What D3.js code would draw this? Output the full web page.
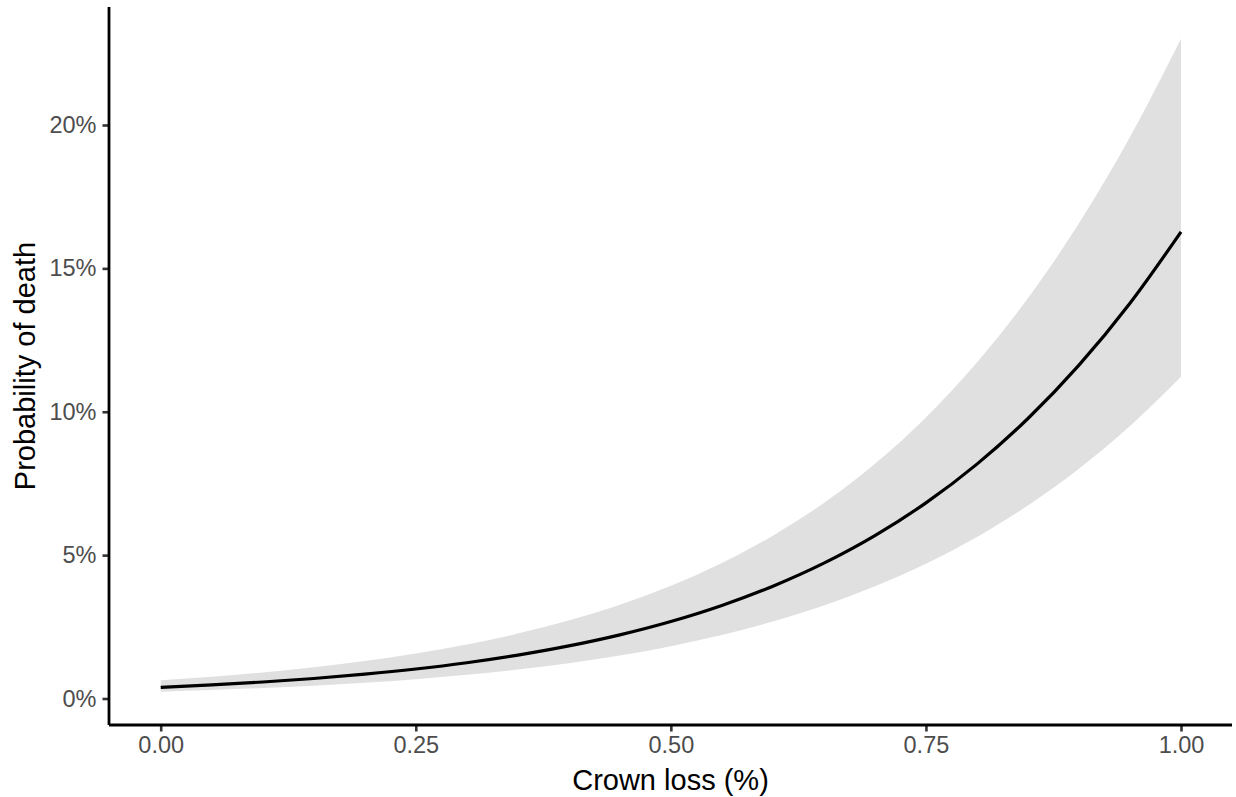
<!DOCTYPE html>
<html>
<head>
<meta charset="utf-8">
<script src="https://cdn.jsdelivr.net/npm/d3@7"></script>
<style>
  html, body { margin: 0; padding: 0; background: #ffffff; }
  svg { display: block; }
</style>
</head>
<body>
<svg id="chart" width="1236" height="797"></svg>
<script>
// Crown loss (fraction) values where the fitted curve was read
const crownLoss = [0.00, 0.05, 0.10, 0.15, 0.20, 0.25, 0.30, 0.35, 0.40, 0.45, 0.50,
                   0.55, 0.60, 0.65, 0.70, 0.75, 0.80, 0.85, 0.90, 0.95, 1.00];
// Probability of death (%) - fitted line
const probFit = [0.390, 0.474, 0.575, 0.698, 0.848, 1.028, 1.247, 1.512, 1.833, 2.219, 2.684,
                 3.244, 3.917, 4.721, 5.681, 6.822, 8.174, 9.764, 11.625, 13.785, 16.274];
// Lower and upper bounds of the confidence band (%)
const probLower = [0.239, 0.295, 0.363, 0.446, 0.548, 0.673, 0.824, 1.008, 1.231, 1.501, 1.826,
                   2.217, 2.686, 3.245, 3.912, 4.702, 5.634, 6.730, 8.012, 9.502, 11.222];
const probUpper = [0.635, 0.760, 0.910, 1.091, 1.308, 1.570, 1.884, 2.263, 2.719, 3.269, 3.930,
                   4.725, 5.679, 6.820, 8.183, 9.801, 11.715, 13.959, 16.572, 19.580, 23.009];
// Axis tick values and labels
const xTicks = [0, 0.25, 0.5, 0.75, 1];
const xTickLabels = ["0.00", "0.25", "0.50", "0.75", "1.00"];
const yTicks = [0, 5, 10, 15, 20];
const yTickLabels = ["0%", "5%", "10%", "15%", "20%"];

const rows = crownLoss.map((x, i) => ({ x, fit: probFit[i], lo: probLower[i], hi: probUpper[i] }));

const svg = d3.select("#chart");
const font = "'Liberation Sans', Arial, Helvetica, sans-serif";

const panel = { left: 109, right: 1232, top: 7, bottom: 725 };

const x = d3.scaleLinear().domain([0, 1]).range([160.7, 1181]);
const y = d3.scaleLinear().domain([0, 20]).range([698.5, 125]);

// ribbon
const area = d3.area()
  .x(d => x(d.x))
  .y0(d => y(d.lo))
  .y1(d => y(d.hi))
  .curve(d3.curveMonotoneX);
svg.append("path")
  .datum(rows)
  .attr("d", area)
  .attr("fill", "#e0e0e0");

// fitted line
const line = d3.line()
  .x(d => x(d.x))
  .y(d => y(d.fit))
  .curve(d3.curveMonotoneX);
svg.append("path")
  .datum(rows)
  .attr("d", line)
  .attr("fill", "none")
  .attr("stroke", "#000000")
  .attr("stroke-width", 3.2);

// X axis
const xAxis = d3.axisBottom(x)
  .tickValues(xTicks)
  .tickFormat((d, i) => xTickLabels[i])
  .tickSize(6.5)
  .tickPadding(5)
  .tickSizeOuter(0);
const gx = svg.append("g")
  .attr("transform", `translate(0,${panel.bottom})`)
  .call(xAxis);
gx.select(".domain").remove();
gx.selectAll(".tick line").attr("stroke", "#333333").attr("stroke-width", 2.6);
gx.selectAll(".tick text")
  .attr("fill", "#4d4d4d")
  .style("font-family", font)
  .style("font-size", "23.5px");
svg.append("line")
  .attr("x1", panel.left).attr("x2", panel.right)
  .attr("y1", panel.bottom).attr("y2", panel.bottom)
  .attr("stroke", "#000000").attr("stroke-width", 2.8);

// Y axis
const yAxis = d3.axisLeft(y)
  .tickValues(yTicks)
  .tickFormat((d, i) => yTickLabels[i])
  .tickSize(6.5)
  .tickPadding(6)
  .tickSizeOuter(0);
const gy = svg.append("g")
  .attr("transform", `translate(${panel.left},0)`)
  .call(yAxis);
gy.select(".domain").remove();
gy.selectAll(".tick line").attr("stroke", "#333333").attr("stroke-width", 2.6);
gy.selectAll(".tick text")
  .attr("fill", "#4d4d4d")
  .style("font-family", font)
  .style("font-size", "23.5px");
svg.append("line")
  .attr("x1", panel.left).attr("x2", panel.left)
  .attr("y1", panel.top).attr("y2", panel.bottom)
  .attr("stroke", "#000000").attr("stroke-width", 2.8);

// Axis titles
svg.append("text")
  .attr("x", (panel.left + panel.right) / 2)
  .attr("y", 790)
  .attr("text-anchor", "middle")
  .attr("fill", "#000000")
  .style("font-family", font)
  .style("font-size", "29px")
  .text("Crown loss (%)");

svg.append("text")
  .attr("transform", `translate(35,${(panel.top + panel.bottom) / 2}) rotate(-90)`)
  .attr("text-anchor", "middle")
  .attr("fill", "#000000")
  .style("font-family", font)
  .style("font-size", "29px")
  .text("Probability of death");
</script>
</body>
</html>
